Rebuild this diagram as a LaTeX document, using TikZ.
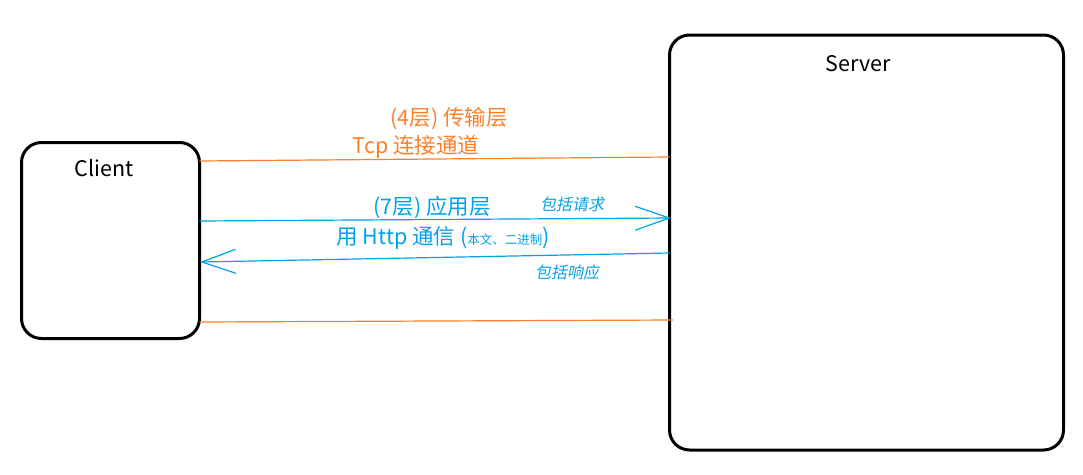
\documentclass[tikz,border=0pt]{standalone}
\usepackage{fontspec}
\setmainfont{Noto Sans CJK SC}
\newfontfamily\slantfont[FakeSlant=0.2]{Noto Sans CJK SC}
\usetikzlibrary{arrows.meta}
\definecolor{tcporange}{HTML}{FF7F27}
\definecolor{httpblue}{HTML}{00A2E8}
\begin{document}
\begin{tikzpicture}[x=1pt,y=-1pt,
  hostbox/.style={draw=black,line width=3pt,rounded corners=20pt,inner sep=0pt},
  hostlabel/.style={font=\fontsize{21.5}{24}\selectfont,text=black},
  orangeline/.style={draw=tcporange,line width=1.2pt},
  blueline/.style={draw=httpblue,line width=1.2pt},
  vtip/.style={-{Straight Barb[length=34pt,width=24pt,line width=1.2pt]}},
  maintext/.style={font=\fontsize{21.5}{24}\selectfont,inner sep=0pt},
  notetext/.style={font=\fontsize{16}{18}\slantfont,text=httpblue,inner sep=0pt}]
\useasboundingbox (0,0) rectangle (1083,474);
% hosts
\node[hostbox,minimum width=178pt,minimum height=196pt] (client) at (110.5,240.5) {};
\node[hostbox,minimum width=394pt,minimum height=415pt] (server) at (866.5,242.5) {};
\node[hostlabel] (clientlabel) at (104,168) {Client};
\node[hostlabel] (serverlabel) at (858,64) {Server};
% line ends on the host borders
\coordinate (tcpAL) at (199.5,161);
\coordinate (tcpAR) at (669.5,157);
\coordinate (reqL) at (199.5,221);
\coordinate (reqR) at (671,218);
\coordinate (resR) at (669.5,253);
\coordinate (resL) at (200,262);
\coordinate (tcpBL) at (199.5,322);
\coordinate (tcpBR) at (673,320);
% transport layer connection
\draw[orangeline] (tcpAL) -- (tcpAR);
\draw[orangeline] (tcpBL) -- (tcpBR);
% application layer request and response
\draw[blueline,vtip] (reqL) -- (reqR);
\draw[blueline,vtip] (resR) -- (resL);
% labels
\node[maintext,text=tcporange] (layer4) at (449,119) {(4层) 传输层};
\node[maintext,text=tcporange] (tcptext) at (416,147) {Tcp 连接通道};
\node[maintext,text=httpblue] (layer7) at (432,207) {(7层) 应用层};
\node[maintext,text=httpblue] (httptext) at (443,238) {用 Http 通信 ({\fontsize{12.5}{14}\selectfont 本文、二进制})};
\node[notetext] (reqnote) at (572,204) {包括请求};
\node[notetext] (resnote) at (567,272) {包括响应};
\end{tikzpicture}
\end{document}
